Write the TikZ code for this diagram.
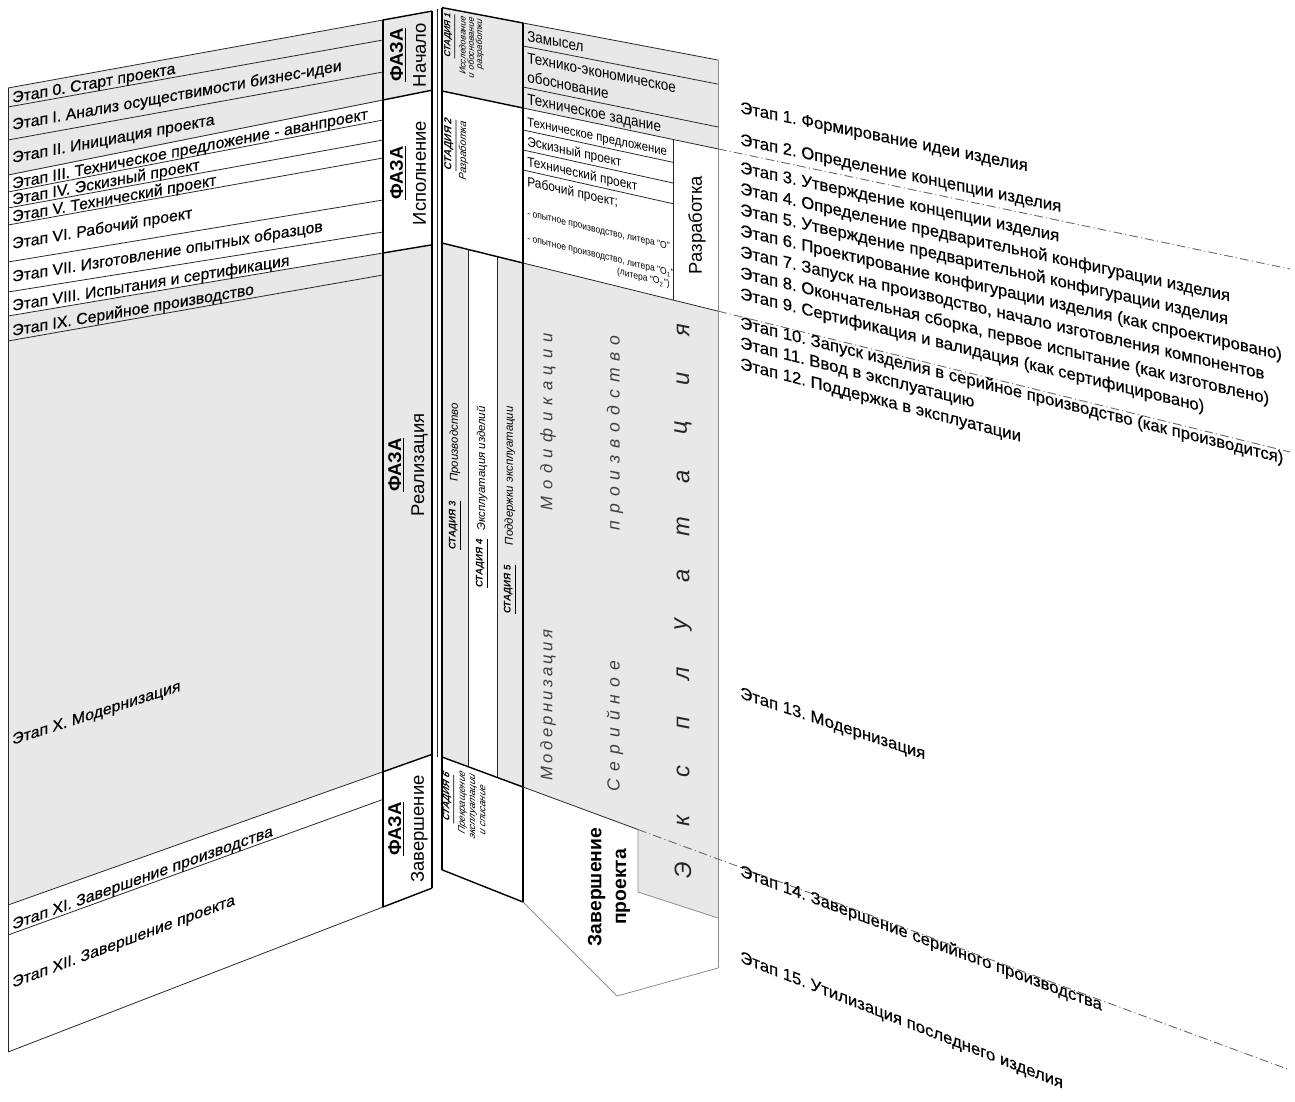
\documentclass[tikz,border=0pt]{standalone}
\usepackage{fontspec}
\setmainfont{Liberation Sans}
\newfontfamily\nar[FakeStretch=0.88]{Liberation Sans}
\newfontfamily\semib[FakeBold=0.4]{Liberation Sans}
\newfontfamily\spc[LetterSpace=40]{Liberation Sans}
\newfontfamily\spcb[LetterSpace=20]{Liberation Sans}
\frenchspacing
\begin{document}
\begin{tikzpicture}[x=0.02cm,y=-0.02cm,
  thk/.style={line width=0.8pt,black},
  thn/.style={line width=0.45pt,black!85},
  gln/.style={line width=0.45pt,black!45},
  dsh/.style={line width=0.5pt,black!60,dash pattern=on 5pt off 1.8pt on 0.6pt off 1.8pt},
  lw/.style={font={\semib\fontsize{9}{10}\selectfont},inner sep=0pt,anchor=base west},
  rw/.style={font={\semib\fontsize{9.5}{11}\selectfont},inner sep=0pt,anchor=base west},
  cw/.style={font={\nar\fontsize{8.7}{10}\selectfont},inner sep=0pt,anchor=base west},
  sw/.style={font={\nar\fontsize{7.7}{9}\selectfont},inner sep=0pt,anchor=base west},
  tw/.style={font={\nar\fontsize{5.5}{6.5}\selectfont},inner sep=0pt,anchor=base west},
  faz/.style={rotate=90,align=center,inner sep=0pt,font={\fontsize{10.5}{13}\selectfont}},
  stl/.style={rotate=90,inner sep=0pt,font={\fontsize{5.5}{6.5}\selectfont\itshape\bfseries}},
  std/.style={rotate=90,inner sep=0pt,font={\fontsize{6.5}{7.5}\selectfont\itshape}},
  big/.style={rotate=90,inner sep=0pt,font={\fontsize{13.5}{15}\selectfont\itshape},text=black!85},
  spaced/.style={rotate=90,inner sep=0pt,font={\spc\fontsize{9.5}{11}\selectfont\itshape},text=black!75}
]
\useasboundingbox (0,0) rectangle (1295,1102);
% ---------- fills ----------
\fill[black!9] (8,88) -- (383,20) -- (383,100) -- (8,175) -- cycle;
\fill[black!9] (383,20) -- (432,11.1) -- (432,90.2) -- (383,100) -- cycle;
\fill[black!9] (8,316) -- (383,253) -- (383,771.8) -- (8,905) -- cycle;
\fill[black!9] (383,253) -- (432,244.8) -- (432,754.4) -- (383,771.8) -- cycle;
\fill[black!9] (442,7.6) -- (718,60) -- (718,148.9) -- (442,91) -- cycle;
\fill[black!9] (442,243) -- (468,249.4) -- (468,766.7) -- (442,757) -- cycle;
\fill[black!9] (497,256.6) -- (523,263) -- (523,787) -- (497,777.4) -- cycle;
\fill[black!9] (523,263) -- (718,311.1) -- (718,918) -- (638,892) -- (638,829.5) -- (523,787) -- cycle;
% ---------- left wall ----------
\foreach \a/\b in {88/20,107/40,140/72,175/100,192/120,208/140,225/158,262/200,292/232,316/253,341/275,905/771.8,935/799.4,1052/907}
  \draw[thn] (8,\a) -- (383,\b);
\draw[thn] (8,88) -- (8,1052);
% phase column
\draw[thk] (383,20) -- (383,907);
\draw[thk] (432,11.1) -- (432,888.1);
\foreach \a/\b in {20/11.1,100/90.2,253/244.8,771.8/754.4,907/888.1}
  \draw[thk] (383,\a) -- (432,\b);
\draw[thn] (437,9) -- (437,757);
% ---------- right wall ----------
\draw[thk] (442,7.6) -- (523,23);
\draw[thn] (523,23) -- (718,60);
\draw[thn] (523,46) -- (718,84.1);
\draw[thn] (523,87) -- (718,127);
\draw[thk] (442,91) -- (523,108);
\draw[thn] (523,108) -- (718,148.9);
\draw[thn] (523,130) -- (673,162.3);
\draw[thn] (523,150) -- (673,183);
\draw[thn] (523,170) -- (673,203.7);
\draw[thk] (442,243) -- (523,263);
\draw[thn] (523,263) -- (718,311.1);
\draw[thk] (442,7.6) -- (442,869.8);
\draw[thk] (523,23) -- (523,902);
\draw[thn] (673,139.5) -- (673,300);
\draw[gln] (718,60) -- (718,968);
\draw[thn] (468,249.4) -- (468,766.7);
\draw[thn] (497,256.6) -- (497,777.4);
\draw[thk] (442,757) -- (523,787);
\draw[thk] (442,869.8) -- (523,902);
\draw[thn] (523,787) -- (638,829.5);
\draw[gln] (638,829.5) -- (638,892) -- (718,918);
\draw[gln] (523,902) -- (617,996) -- (718,968);
\draw[dsh] (718,148.9) -- (1290,269);
\draw[dsh] (718,311.1) -- (1290,452);
\draw[dsh] (638,829.5) -- (1290,1070);
% ---------- left wall texts ----------
\node[lw,yslant=0.180] (l0) at (12,103) {Этап 0. Старт проекта};
\node[lw,yslant=0.180] (l1) at (12,130) {Этап I. Анализ осуществимости бизнес-идеи};
\node[lw,yslant=0.190] (l2) at (12,163) {Этап II. Инициация проекта};
\node[lw,yslant=0.196] (l3) at (12,189) {Этап III. Техническое предложение - аванпроект};
\node[lw,yslant=0.187] (l4) at (12,205) {Этап IV. Эскизный проект};
\node[lw,yslant=0.180] (l5) at (12,222) {Этап V. Технический проект};
\node[lw,yslant=0.172] (l6) at (12,249) {Этап VI. Рабочий проект};
\node[lw,yslant=0.163] (l7) at (12,282) {Этап VII. Изготовление опытных образцов};
\node[lw,yslant=0.164] (l8) at (12,311) {Этап VIII. Испытания и сертификация};
\node[lw,yslant=0.172] (l9) at (12,336) {Этап IX. Серийное производство};
\node[lw,yslant=0.3220] (l10) at (12,745) {Этап X. Модернизация};
\node[lw,yslant=0.3611] (l11) at (12,930) {Этап XI. Завершение производства};
\node[lw,yslant=0.3737] (l12) at (12,988) {Этап XII. Завершение проекта};
% ---------- phase texts ----------
\node[faz] (f1) at (408,55) {\underline{\textbf{ФАЗА}}\\Начало};
\node[faz] (f2) at (408,173) {\underline{\textbf{ФАЗА}}\\Исполнение};
\node[faz] (f3) at (408,465) {\underline{\textbf{ФАЗА}}\\Реализация};
\node[faz] (f4) at (408,829) {\underline{\textbf{ФАЗА}}\\Завершение};
% ---------- stage texts ----------
\node[yslant=-0.19,rotate=90,anchor=north east,align=right,inner sep=0pt,font={\fontsize{5}{4.7}\selectfont\itshape}] (s1) at (444,12)
  {\underline{\textbf{СТАДИЯ 1}}\\[1pt]Исследование\\и обоснование\\разработки};
\node[yslant=-0.2,rotate=90,anchor=north east,align=right,inner sep=0pt,font={\fontsize{5.8}{7}\selectfont\itshape}] (s2) at (444,117)
  {\underline{\textbf{СТАДИЯ 2}}\\Разработка};
\node[stl,anchor=west] (s3a) at (455,550) {\underline{СТАДИЯ 3}};
\node[std,anchor=east] (s3b) at (455,403) {Производство};
\node[stl,anchor=west] (s4a) at (482,588) {\underline{СТАДИЯ 4}};
\node[std,anchor=east] (s4b) at (482,406) {Эксплуатация изделий};
\node[stl,anchor=west] (s5a) at (510,614) {\underline{СТАДИЯ 5}};
\node[std,anchor=east] (s5b) at (510,406) {Поддержки эксплуатации};
\node[yslant=-0.37,rotate=90,align=center,inner sep=0pt,font={\fontsize{5.5}{5.8}\selectfont\itshape}] (s6) at (464,803)
  {\underline{\textbf{СТАДИЯ 6}}\\[1pt]Прекращение\\эксплуатации\\и списание};
% ---------- right column texts ----------
\node[cw,yslant=-0.194] (c1) at (527,41) {Замысел};
\node[cw,yslant=-0.199] (c2) at (527,63) {Технико-экономическое};
\node[cw,yslant=-0.2036] (c3) at (527,82) {обоснование};
\node[cw,yslant=-0.2088] (c4) at (527,104) {Техническое задание};
\node[sw,font={\nar\fontsize{7.3}{9}\selectfont},yslant=-0.214] (c5) at (527,126) {Техническое предложение};
\node[sw,yslant=-0.2187] (c6) at (527,146) {Эскизный проект};
\node[sw,yslant=-0.2234] (c7) at (527,166) {Технический проект};
\node[sw,yslant=-0.2281] (c8) at (527,186) {Рабочий проект;};
\node[tw,yslant=-0.235] (c9) at (527,216) {- опытное производство, литера "О"};
\node[tw,yslant=-0.241] (c10) at (527,241) {- опытное производство, литера "О\textsubscript{1}"};
\node[tw,anchor=base east,yslant=-0.2434] (c11) at (670,287) {(литера "О\textsubscript{2}")};
\node[rotate=90,inner sep=0pt,font={\fontsize{10.5}{12}\selectfont}] (razr) at (697,225) {Разработка};
\node[spaced,font={\spcb\fontsize{9.5}{11}\selectfont\itshape}] (m1) at (548,705) {Модернизация};
\node[spaced] (m2) at (548,422) {Модификации};
\node[spaced,font={\spc\fontsize{10}{12}\selectfont\itshape}] (m3) at (615,726) {Серийное};
\node[spaced,font={\spc\fontsize{10}{12}\selectfont\itshape}] (m4) at (615,433) {производство};
\foreach \ch [count=\i from 0] in {Э,к,с,п,л,у,а,т,а,ц,и,я}
  \node[big] (ex\i) at (683,{870-\i*49.1}) {\ch};
\node[rotate=90,align=center,inner sep=0pt,font={\fontsize{11}{14}\selectfont\bfseries}] (zp) at (609,887) {Завершение\\проекта};
% ---------- right wall stage texts ----------
\node[rw,yslant=-0.2020] (r1) at (740,113) {Этап 1. Формирование идеи изделия};
\node[rw,yslant=-0.2085] (r2) at (740,145) {Этап 2. Определение концепции изделия};
\node[rw,yslant=-0.2147] (r3) at (740,173) {Этап 3. Утверждение концепции изделия};
\node[rw,yslant=-0.2192] (r4) at (740,194) {Этап 4. Определение предварительной конфигурации изделия};
\node[rw,yslant=-0.2242] (r5) at (740,215) {Этап 5. Утверждение предварительной конфигурации изделия};
\node[rw,yslant=-0.2287] (r6) at (740,236) {Этап 6. Проектирование конфигурации изделия (как спроектировано)};
\node[rw,yslant=-0.2334] (r7) at (740,257) {Этап 7. Запуск на производство, начало изготовления компонентов};
\node[rw,yslant=-0.2383] (r8) at (740,278) {Этап 8. Окончательная сборка, первое испытание (как изготовлено)};
\node[rw,yslant=-0.2432] (r9) at (740,299) {Этап 9. Сертификация и валидация (как сертифицировано)};
\node[rw,yslant=-0.2490] (r10) at (740,328) {Этап 10. Запуск изделия в серийное производство (как производится)};
\node[rw,yslant=-0.2535] (r11) at (740,348) {Этап 11. Ввод в эксплуатацию};
\node[rw,yslant=-0.2585] (r12) at (740,369) {Этап 12. Поддержка в эксплуатации};
\node[rw,yslant=-0.3320] (r13) at (740,698) {Этап 13. Модернизация};
\node[rw,yslant=-0.3720] (r14) at (740,876) {Этап 14. Завершение серийного производства};
\node[rw,yslant=-0.3920] (r15) at (740,962) {Этап 15. Утилизация последнего изделия};
\end{tikzpicture}
\end{document}
